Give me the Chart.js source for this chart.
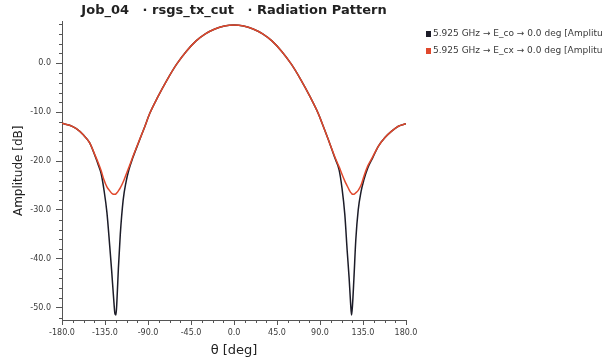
<!DOCTYPE html>
<html lang="en">
<head>
    <meta charset="UTF-8">
    <title>Job_04 - Radiation Pattern</title>
    <script src="https://cdn.jsdelivr.net/npm/chart.js"></script>
    <style>
        body { margin: 0; background: #fff; overflow: hidden; }
        .chart-box { width: 602px; height: 358px; position: relative; }
    </style>
</head>
<body>
    <div class="chart-box">
        <canvas id="patternChart"></canvas>
    </div>

    <script>
        // angle grid (deg), shared by both cuts
        const theta = [
            -180, -172, -165, -158, -151, -145, -142, -139, -136, -133, -130, -128, -126,
            -124.5, -123.5, -122.5, -121, -119, -116, -113, -110, -106, -100, -94, -88,
            -80, -70, -60, -50, -40, -30, -20, -10, 0, 10, 20, 30, 40, 50, 60, 70, 80,
            88, 94, 100, 106, 110, 113, 116, 118.5, 120.5, 122, 123, 124, 125.5, 127.5,
            130, 133, 136, 140, 145, 151, 158, 165, 172, 180
        ];
        // E_co amplitude (dB)
        const ampCo = [
            -12.3, -12.7, -13.4, -14.6, -16.3, -19.2, -20.8, -22.6, -26.0, -30.5, -37.5, -42.5, -48.0,
            -51.3, -51.5, -48.5, -42.0, -35.0, -28.0, -24.3, -21.8, -19.4, -16.3, -13.3, -10.2,
            -7.0, -3.4, -0.2, 2.4, 4.5, 6.0, 7.0, 7.6, 7.8, 7.6, 7.0, 6.0, 4.5, 2.4, -0.2, -3.4, -7.0,
            -10.2, -13.2, -16.3, -19.6, -21.8, -25.5, -31.0, -38.5, -44.0, -49.0, -51.5, -49.5, -44.0, -36.0,
            -30.0, -26.2, -23.8, -21.4, -19.4, -17.0, -15.2, -13.9, -12.9, -12.4
        ];
        // E_cx amplitude (dB)
        const ampCx = [
            -12.3, -12.7, -13.4, -14.6, -16.3, -19.0, -20.4, -22.0, -23.9, -25.3, -26.1, -26.6, -26.8,
            -26.8, -26.7, -26.5, -26.1, -25.5, -24.3, -22.8, -21.3, -19.2, -16.2, -13.3, -10.2,
            -7.0, -3.4, -0.2, 2.4, 4.5, 6.0, 7.0, 7.6, 7.8, 7.6, 7.0, 6.0, 4.5, 2.4, -0.2, -3.4, -7.0,
            -10.2, -13.2, -16.3, -19.4, -21.2, -22.7, -24.1, -25.1, -25.9, -26.4, -26.6, -26.8, -26.8, -26.5,
            -26.0, -24.9, -23.1, -21.0, -19.2, -17.0, -15.2, -13.9, -12.9, -12.4
        ];
        const xTicks = [-180, -135, -90, -45, 0, 45, 90, 135, 180];
        const yTicks = [-50, -40, -30, -20, -10, 0];
        const seriesNames = [
            '5.925 GHz \u2192 E_co \u2192 0.0 deg [Amplitude]',
            '5.925 GHz \u2192 E_cx \u2192 0.0 deg [Amplitude]'
        ];

        const axisColor = '#555';
        const textColor = '#3a3a3a';
        const baseFont = 'DejaVu Sans';

        // small ticks between the labelled ones
        const minorTicks = {
            id: 'minorTicks',
            afterDraw(chart) {
                const { ctx, scales: { x, y } } = chart;
                ctx.save();
                ctx.strokeStyle = axisColor;
                ctx.lineWidth = 1;
                ctx.beginPath();
                for (let v = -52; v <= 8; v += 2) {
                    if (v % 10 === 0) continue;
                    const py = Math.round(y.getPixelForValue(v)) + 0.5;
                    ctx.moveTo(x.left - 3, py);
                    ctx.lineTo(x.left, py);
                }
                for (let t = -180; t <= 180; t += 11.25) {
                    if (t % 45 === 0) continue;
                    const px = Math.round(x.getPixelForValue(t)) + 0.5;
                    ctx.moveTo(px, y.bottom);
                    ctx.lineTo(px, y.bottom + 3);
                }
                ctx.stroke();
                ctx.restore();
            }
        };

        // legend on the right, runs off the edge like the original
        const sideLegend = {
            id: 'sideLegend',
            afterDraw(chart) {
                const ctx = chart.ctx;
                ctx.save();
                ctx.font = '9px "' + baseFont + '"';
                ctx.textBaseline = 'middle';
                chart.data.datasets.forEach((ds, i) => {
                    const ly = 34 + i * 17;
                    ctx.fillStyle = ds.borderColor;
                    ctx.fillRect(426, ly - 3, 5, 6);
                    ctx.fillStyle = textColor;
                    ctx.fillText(ds.label, 433, ly);
                });
                ctx.restore();
            }
        };

        document.addEventListener('DOMContentLoaded', function() {
            const ctx = document.getElementById('patternChart').getContext('2d');

            new Chart(ctx, {
                type: 'line',
                data: {
                    datasets: [{
                        label: seriesNames[0],
                        data: theta.map((t, i) => ({ x: t, y: ampCo[i] })),
                        borderColor: '#1c1c28',
                        borderWidth: 1.5,
                        pointRadius: 0,
                        cubicInterpolationMode: 'monotone',
                        order: 1
                    }, {
                        label: seriesNames[1],
                        data: theta.map((t, i) => ({ x: t, y: ampCx[i] })),
                        borderColor: '#e0482c',
                        borderWidth: 1.5,
                        pointRadius: 0,
                        cubicInterpolationMode: 'monotone',
                        order: 0
                    }]
                },
                options: {
                    responsive: true,
                    maintainAspectRatio: false,
                    animation: false,
                    layout: { padding: { right: 196 } },
                    plugins: {
                        legend: { display: false },
                        tooltip: { enabled: false },
                        title: {
                            display: true,
                            fullSize: false,
                            text: 'Job_04   \u00b7 rsgs_tx_cut   \u00b7 Radiation Pattern',
                            color: '#222',
                            font: { family: baseFont, size: 13, weight: 'bold' },
                            padding: { top: 3, bottom: 3 }
                        }
                    },
                    scales: {
                        x: {
                            type: 'linear',
                            min: -180,
                            max: 180,
                            afterBuildTicks: (s) => { s.ticks = xTicks.map(v => ({ value: v })); },
                            afterFit: (s) => { s.height = 38; },
                            ticks: {
                                callback: (v) => v.toFixed(1),
                                color: textColor,
                                font: { family: baseFont, size: 8 },
                                padding: 3,
                                maxRotation: 0
                            },
                            grid: { drawOnChartArea: false, tickLength: 5, tickColor: axisColor },
                            border: { color: axisColor },
                            title: {
                                display: true,
                                text: '\u03b8 [deg]',
                                color: '#222',
                                font: { family: baseFont, size: 13 },
                                padding: 0
                            }
                        },
                        y: {
                            min: -52.5,
                            max: 8.5,
                            afterBuildTicks: (s) => { s.ticks = yTicks.map(v => ({ value: v })); },
                            afterFit: (s) => { s.width = 62; },
                            ticks: {
                                callback: (v) => v.toFixed(1),
                                color: textColor,
                                font: { family: baseFont, size: 8 },
                                padding: 5
                            },
                            grid: { drawOnChartArea: false, tickLength: 6, tickColor: axisColor },
                            border: { color: axisColor },
                            title: {
                                display: true,
                                text: 'Amplitude [dB]',
                                color: '#222',
                                font: { family: baseFont, size: 12 },
                                padding: { top: 12, bottom: 0 }
                            }
                        }
                    }
                },
                plugins: [minorTicks, sideLegend]
            });
        });
    </script>
</body>
</html>
